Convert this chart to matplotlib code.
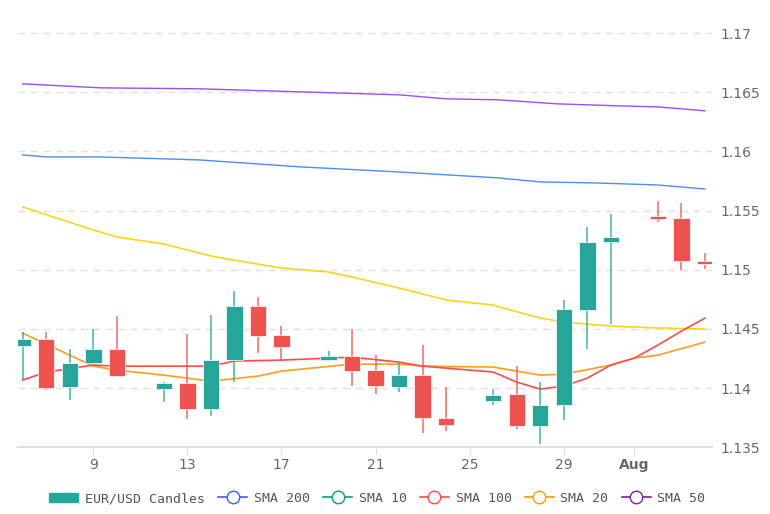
import matplotlib.pyplot as plt
from matplotlib.lines import Line2D
from matplotlib.patches import FancyBboxPatch, Patch

# July day numbers (Aug 1 = 32)
days = [6, 7, 8, 9, 10, 12, 13, 14, 15, 16, 17, 19, 20, 21, 22, 23, 24, 26, 27, 28, 29, 30, 31, 33, 34, 35]
opens = [1.14354, 1.14414, 1.14008, 1.14211, 1.1433, 1.1399, 1.1404, 1.1382, 1.1424, 1.1469, 1.1445, 1.1424, 1.1427,
         1.1415, 1.1401, 1.1411, 1.1375, 1.1389, 1.1395, 1.1368, 1.1386, 1.1466, 1.1523, 1.1545, 1.1544, 1.1507]
closes = [1.14414, 1.13999, 1.14211, 1.14329, 1.1410, 1.1404, 1.1382, 1.1424, 1.1469, 1.1444, 1.1435, 1.1427, 1.1414,
          1.1402, 1.1411, 1.1375, 1.1369, 1.1394, 1.1368, 1.1386, 1.1467, 1.1523, 1.1528, 1.1543, 1.1507, 1.1505]
highs = [1.14473, 1.1447, 1.14329, 1.14498, 1.1461, 1.1405, 1.1446, 1.1462, 1.1482, 1.1477, 1.1452, 1.1431, 1.1450,
         1.1428, 1.1421, 1.1436, 1.1401, 1.1399, 1.1419, 1.1405, 1.1474, 1.1536, 1.1547, 1.1558, 1.1556, 1.1514]
lows = [1.14067, 1.13982, 1.13898, 1.14211, 1.1410, 1.1388, 1.1374, 1.1376, 1.1405, 1.1430, 1.1423, 1.1423, 1.1402,
        1.1395, 1.1397, 1.1362, 1.1364, 1.1386, 1.1365, 1.1353, 1.1373, 1.1433, 1.1454, 1.1540, 1.1500, 1.1501]

sma50_x = [6, 9.3, 13.5, 17.8, 22, 24, 26.2, 28.7, 31.3, 33, 35]
sma50_y = [1.16571, 1.16537, 1.16529, 1.16503, 1.16478, 1.16444, 1.16436, 1.16402, 1.16385, 1.16376, 1.16343]
sma200_x = [6, 7, 9.3, 13.5, 17.8, 22, 26.2, 28, 30.4, 33, 35]
sma200_y = [1.1597, 1.15953, 1.15953, 1.15928, 1.15869, 1.15826, 1.15776, 1.15742, 1.15733, 1.15716, 1.15682]
sma100_x = [6, 9, 10, 12, 14, 15, 17, 19, 20, 22, 23, 24, 26, 27, 28, 29, 30, 31, 32, 33, 34, 35]
sma100_y = [1.14464, 1.14185, 1.14151, 1.14109, 1.14058, 1.15116, 1.15014, 1.14981, 1.14938, 1.14845, 1.14800,
            1.14744, 1.14701, 1.14640, 1.14591, 1.14558, 1.14535, 1.14524, 1.14515, 1.14507, 1.14503, 1.14499]
sma100_y = [1.1553, 1.15336, 1.15277, 1.15217, 1.15116, 1.15080, 1.15014, 1.14981, 1.14938, 1.14845, 1.14795,
            1.14744, 1.14701, 1.14645, 1.14591, 1.14558, 1.14540, 1.14524, 1.14515, 1.14507, 1.14503, 1.14499]
sma10_x = [6, 7, 9, 10, 12, 14, 15, 17, 20, 22, 23, 26, 27, 28, 29, 30, 31, 32, 33, 34, 35]
sma10_y = [1.14067, 1.14135, 1.14194, 1.14185, 1.14185, 1.14185, 1.14228, 1.14236, 1.14261, 1.14219, 1.14185,
           1.14135, 1.1405, 1.13991, 1.14016, 1.14084, 1.14194, 1.14253, 1.14363, 1.14481, 1.14591]
sma20_x = [6, 8, 9, 10, 12, 14, 16, 17, 20, 22, 23, 26, 28, 29, 31, 32, 33, 35]
sma20_y = [1.14464, 1.14278, 1.14185, 1.14151, 1.14109, 1.14058, 1.14101, 1.14143, 1.14202, 1.14202, 1.14185,
           1.14177, 1.14109, 1.14117, 1.14194, 1.14253, 1.14278, 1.14388]

tick_pos = [9, 13, 17, 21, 25, 29, 32]
tick_lab = ["9", "13", "17", "21", "25", "29", "Aug"]
yticks = [1.135, 1.14, 1.145, 1.15, 1.155, 1.16, 1.165, 1.17]
ylabs = ["1.135", "1.14", "1.145", "1.15", "1.155", "1.16", "1.165", "1.17"]

up = "#26a69a"
down = "#ef5350"

fig = plt.figure(figsize=(7.7, 5.14), dpi=100)
ax = fig.add_axes([18 / 770, 0.130, 694 / 770, 0.831])

ax.plot(sma50_x, sma50_y, color="#a04cf5", lw=1)
ax.plot(sma200_x, sma200_y, color="#4c8dfc", lw=1)
ax.plot(sma100_x, sma100_y, color="#ffd21f", lw=1.2)
ax.plot(sma20_x, sma20_y, color="#ff9d1c", lw=1.2)
ax.plot(sma10_x, sma10_y, color="#ff4b4b", lw=1.2)

for d, o, c, h, l in zip(days, opens, closes, highs, lows):
    col = up if c >= o else down
    ax.vlines(d, l, h, color=col, lw=1.2, alpha=0.8, zorder=3)
    ax.bar(d, max(abs(c - o), 0.00008), bottom=min(o, c), width=0.7, color=col,
           edgecolor="#ffffff", linewidth=0.5, zorder=4)

ax.set_xlim(5.8, 35.3)
ax.set_ylim(1.135, 1.1711)
ax.set_xticks(tick_pos)
ax.set_xticklabels(tick_lab)
for t in ax.get_xticklabels():
    if t.get_text() == "Aug":
        t.set_fontweight("bold")
ax.yaxis.tick_right()
ax.set_yticks(yticks)
ax.set_yticklabels(ylabs)
ax.tick_params(axis="both", colors="#666666", labelsize=10, length=0, pad=6)
ax.tick_params(axis="x", length=5, color="#dddddd", pad=3)
ax.grid(axis="y", color="#e0e0e0", ls=(0, (5, 4)), lw=1)
for s in ["top", "left", "right"]:
    ax.spines[s].set_visible(False)
ax.spines["bottom"].set_color("#e0e0e0")
ax.spines["bottom"].set_linewidth(1.5)

handles = [Patch(facecolor=up, edgecolor=up),
           Line2D([], [], color="#3b5bff", marker="o", mfc="white", ms=9, lw=1.2),
           Line2D([], [], color="#159a78", marker="o", mfc="white", ms=9, lw=1.2),
           Line2D([], [], color="#ff4b4b", marker="o", mfc="white", ms=9, lw=1.2),
           Line2D([], [], color="#ff9800", marker="o", mfc="white", ms=9, lw=1.2),
           Line2D([], [], color="#7b1fa2", marker="o", mfc="white", ms=9, lw=1.2)]
labels = ["EUR/USD Candles", "SMA 200", "SMA 10", "SMA 100", "SMA 20", "SMA 50"]
fig.legend(handles, labels, loc="center", bbox_to_anchor=(0.49, 0.03), ncol=6, frameon=False,
           prop={"family": "DejaVu Sans Mono", "size": 9.5}, labelcolor="#555555",
           handlelength=2.2, handletextpad=0.5, columnspacing=1.0)

fig.savefig("out.png", dpi=100)
